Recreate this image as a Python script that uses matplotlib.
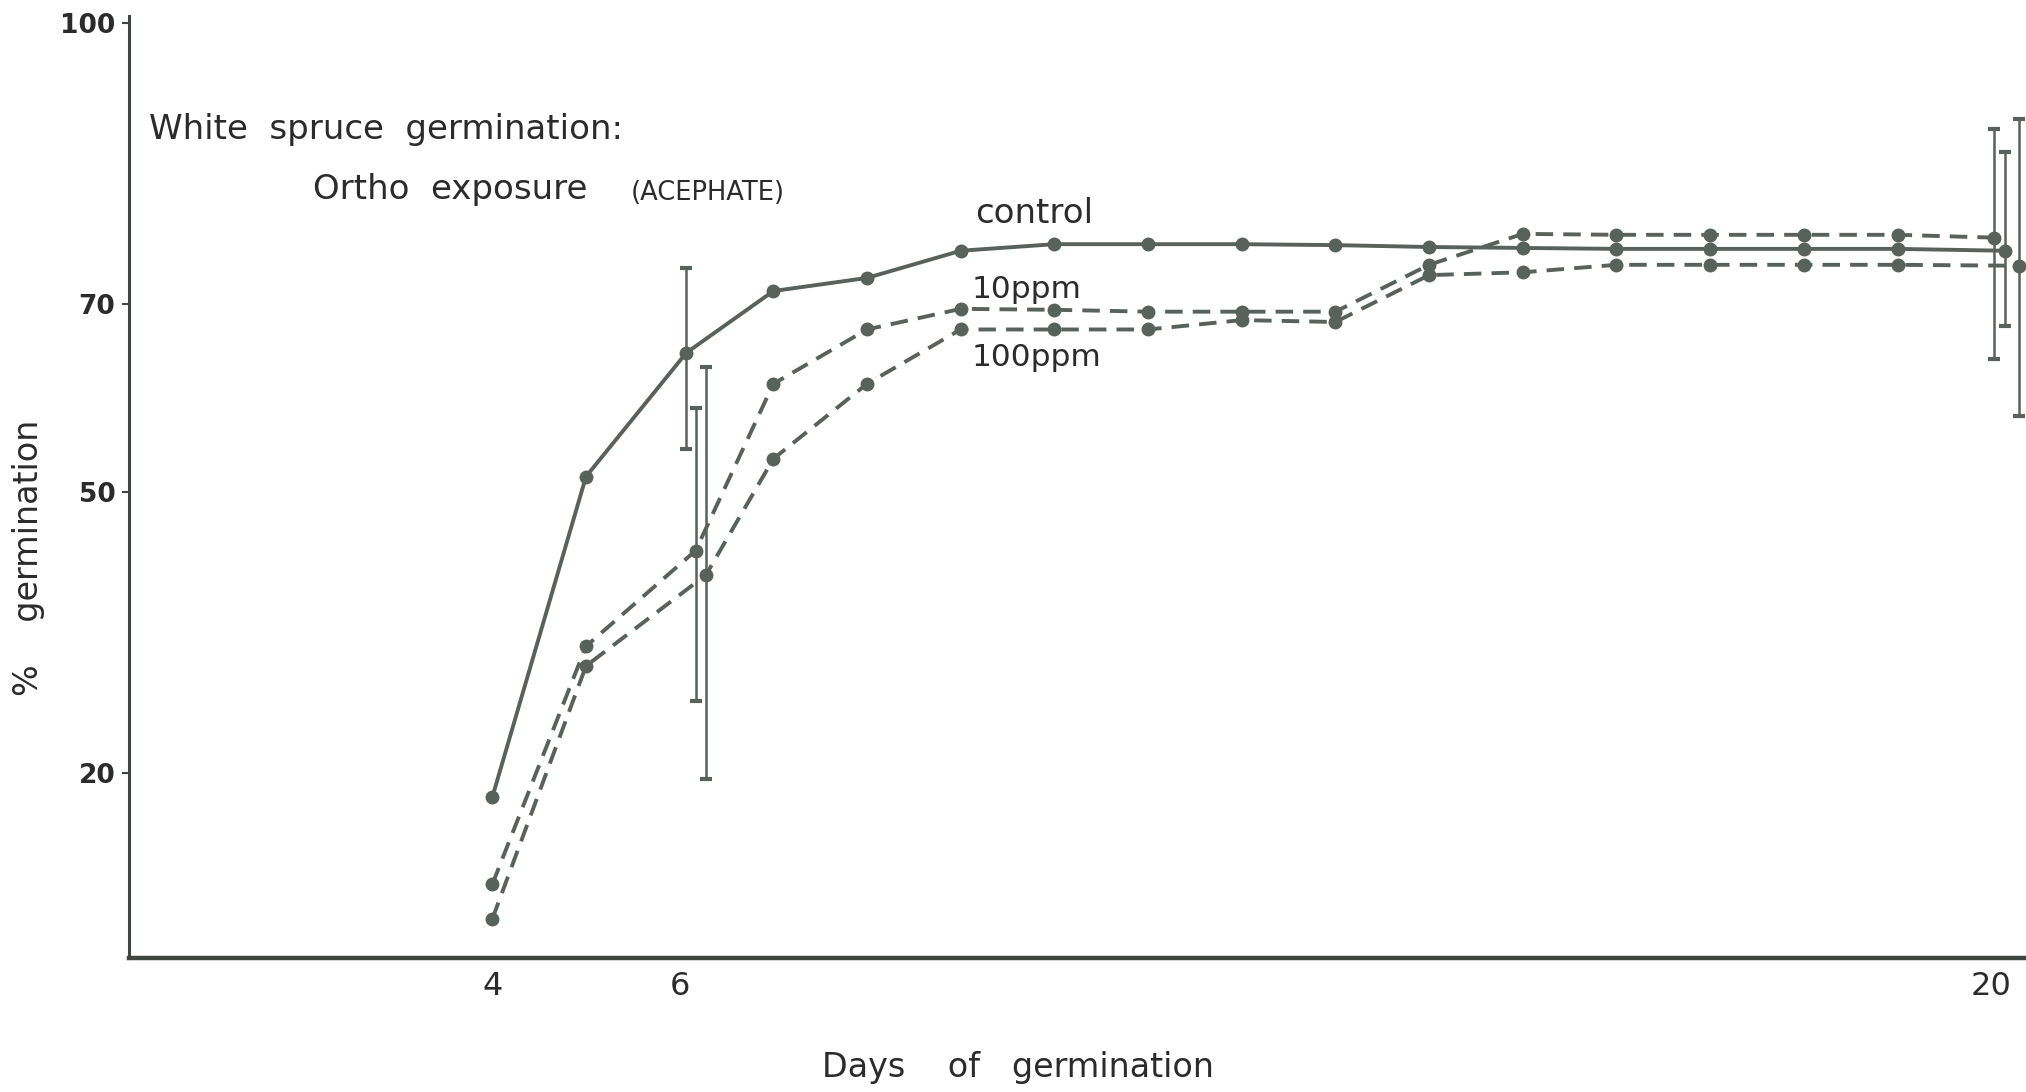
import matplotlib
matplotlib.use("Agg")
import matplotlib.pyplot as plt
import numpy as np

# ---- data ----
days = [4, 5, 6, 7, 8, 9, 10, 11, 12, 13, 14, 15, 16, 17, 18, 19, 20]
control = [17.4, 51.6, 64.8, 71.4, 72.8, 75.7, 76.4, 76.4, 76.4, 76.3, 76.1,
           76.0, 75.9, 75.9, 75.9, 75.9, 75.7]
ppm10 = [8.1, 33.5, 43.7, 61.5, 67.3, 69.5, 69.4, 69.2, 69.2, 69.2, 74.2,
         77.5, 77.4, 77.4, 77.4, 77.4, 77.1]
ppm100 = [4.4, 31.4, 41.1, 53.5, 61.5, 67.3, 67.3, 67.3, 68.3, 68.1, 73.1,
          73.4, 74.2, 74.2, 74.2, 74.2, 74.1]

err_days = [6, 20]
control_err_low = [54.6, 67.7]
control_err_high = [73.9, 86.2]
ppm10_err_low = [27.7, 64.1]
ppm10_err_high = [58.9, 88.7]
ppm100_err_low = [19.3, 58.1]
ppm100_err_high = [63.3, 89.8]

x_ticks = [4, 6, 20]
y_ticks = [20, 50, 70, 100]

# ---- style ----
INK = "#59615c"
TEXT = "#2b2b2b"
W, H = 2026, 1092
fig = plt.figure(figsize=(W / 100, H / 100), dpi=100)
ax = fig.add_axes([100 / 1568, 1 - 741 / 845, 1 - 100 / 1568 - 0.001, (741 - 12) / 845])
ax.set_xlim(0.124, 20.35)
ax.set_ylim(0.28, 100.8)

# horizontal dodge of the error-bar days (style, not data)
dodge = {"control": (0.07, 0.15), "ppm10": (0.17, 0.03), "ppm100": (0.28, 0.30)}


def dodged_x(name):
    xs = np.array(days, dtype=float)
    for d, off in zip(err_days, dodge[name]):
        xs[days.index(d)] = d + off
    return xs


series = [
    ("control", control, control_err_low, control_err_high, "-"),
    ("ppm10", ppm10, ppm10_err_low, ppm10_err_high, (0, (4.5, 2.6))),
    ("ppm100", ppm100, ppm100_err_low, ppm100_err_high, (0, (4.5, 2.6))),
]

for name, vals, lo, hi, ls in series:
    xs = dodged_x(name)
    ax.plot(xs, vals, ls=ls, color=INK, lw=2.8, marker="o", ms=9,
            mfc=INK, mec=INK, clip_on=False, zorder=3)
    ex = [d + off for d, off in zip(err_days, dodge[name])]
    ey = [vals[days.index(d)] for d in err_days]
    yerr = [np.array(ey) - np.array(lo), np.array(hi) - np.array(ey)]
    ax.errorbar(ex, ey, yerr=yerr, fmt="none", ecolor=INK, elinewidth=1.8,
                capsize=4, capthick=3, clip_on=False, zorder=2)

# axes styling
for s in ["top", "right"]:
    ax.spines[s].set_visible(False)
ax.spines["left"].set_linewidth(2.2)
ax.spines["left"].set_color("#3f4642")
ax.spines["bottom"].set_linewidth(3.2)
ax.spines["bottom"].set_color("#3f4642")
ax.set_xticks(x_ticks)
ax.set_xticklabels([str(t) for t in x_ticks])
ax.set_yticks(y_ticks)
ax.set_yticklabels([str(t) for t in y_ticks])
ax.tick_params(axis="x", length=0, pad=10, labelsize=23, labelcolor=TEXT)
ax.tick_params(axis="y", length=5, width=1.5, direction="out", pad=5,
               labelsize=19, labelcolor=TEXT, color="#3f4642")
for lab in ax.get_yticklabels():
    lab.set_fontweight("bold")

# texts
def ftext(px, py, s, **kw):
    fig.text(px / 1568, 1 - py / 845, s, color=TEXT, va="center", **kw)

ftext(115, 100, "White  spruce  germination:", fontsize=24.5, ha="left")
ftext(242, 147, "Ortho  exposure", fontsize=24.5, ha="left")
ftext(488, 149, "(ACEPHATE)", fontsize=18.5, ha="left",
      family=["Liberation Sans Narrow", "DejaVu Sans"])
ftext(755, 165, "control", fontsize=24.5, ha="left")
ftext(752, 224, "10ppm", fontsize=22.5, ha="left")
ftext(752, 277, "100ppm", fontsize=22.5, ha="left")
ftext(788, 826, "Days    of   germination", fontsize=24, ha="center")
ftext(22, 432, "%    germination", fontsize=24, ha="center", rotation=90)

fig.savefig("out.png", dpi=100, facecolor="white")
